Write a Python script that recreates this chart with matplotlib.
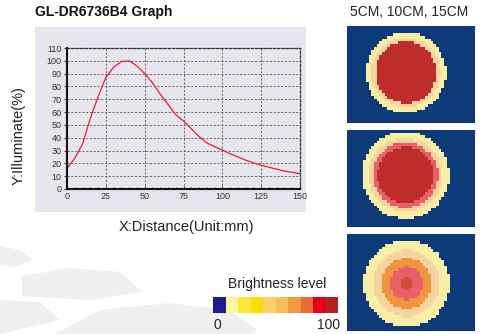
import numpy as np
import matplotlib.pyplot as plt
from matplotlib.colors import to_rgb
from matplotlib.patches import Rectangle, Polygon

W, H = 495, 334

# curve data
distance = [0, 5, 10, 15, 20, 25, 30, 35, 40, 45, 50, 55, 60, 65, 70, 75, 80, 85,
            90, 95, 100, 105, 110, 115, 120, 125, 130, 135, 140, 145, 150]
illuminate = [16, 24, 35, 55, 72, 87, 95, 99.5, 100, 96, 90, 83, 74, 66, 58, 53,
              47, 41, 36, 33, 30.5, 27.5, 25, 22.5, 20.5, 18.5, 17, 15.5, 14, 13, 12]
x_ticks = [0, 25, 50, 75, 100, 125, 150]
y_ticks = list(range(0, 111, 10))

# brightness levels (index into level_colors) and ring radii in px
level_colors = ['#0d3a78', '#f8eea4', '#f5d4a0', '#f0943e', '#e8606a', '#bf2d2a', '#d84a3a']
panel_levels = [
    [1, 2, 5],
    [1, 2, 4, 5],
    [1, 2, 3, 4, 6],
]
panel_radii = [
    [40, 34.5, 30.5],
    [43.5, 37, 32.5, 28],
    [43, 33, 25, 16.5, 6.5],
]
panel_centers = [(59, 47), (58.5, 45), (59.5, 50)]  # px inside each panel

scale_colors = ['#1c1f8a', '#fff6a0', '#fbe93a', '#f9dc00', '#fbd06c', '#f8bc5a',
                '#f29a40', '#ec6a3a', '#e3001b', '#b31e24']


def box(x, y, w, h):
    return [x / W, 1 - (y + h) / H, w / W, h / H]


fig = plt.figure(figsize=(W / 100, H / 100), dpi=100)
plt.rcParams['font.family'] = ['Liberation Sans', 'DejaVu Sans']

# background layer in pixel coordinates
bg = fig.add_axes([0, 0, 1, 1])
bg.set_xlim(0, W)
bg.set_ylim(H, 0)
bg.axis('off')

# grey brush strokes at bottom left
strokes = [
    [(0, 246), (20, 250), (32, 260), (15, 267), (0, 265)],
    [(22, 276), (70, 268), (120, 272), (142, 292), (90, 300), (22, 296)],
    [(0, 300), (40, 302), (60, 320), (0, 334)],
    [(55, 334), (100, 310), (170, 303), (230, 311), (258, 330), (250, 334)],
]
for pts in strokes:
    bg.add_patch(Polygon(pts, closed=True, color='#efefef', lw=0, zorder=0))

bg.add_patch(Rectangle((35, 27), 271, 185, color='#e7e6ef', lw=0))

bg.text(35, 12, 'GL-DR6736B4 Graph', fontsize=10, fontweight='bold',
        va='center', ha='left', color='#111111')
bg.text(19, 136, 'Y:Illuminate(%)', fontsize=10.5, rotation=90,
        va='center', ha='center', color='#222222')
bg.text(186, 227, 'X:Distance(Unit:mm)', fontsize=10.5,
        va='center', ha='center', color='#222222')
bg.text(409, 12, '5CM, 10CM, 15CM', fontsize=10,
        va='center', ha='center', color='#222222')
bg.text(277, 284, 'Brightness level', fontsize=10,
        va='center', ha='center', color='#222222')
bg.text(217, 325, '0', fontsize=10, va='center', ha='center', color='#222222')
bg.text(329, 325, '100', fontsize=10, va='center', ha='center', color='#222222')

# line chart
ax = fig.add_axes(box(67, 48, 233, 141))
ax.set_facecolor('none')
ax.plot(distance, illuminate, color='#ee1c2a', lw=0.9)
ax.set_xlim(0, 150)
ax.set_ylim(0, 110)
ax.set_xticks(x_ticks)
ax.set_yticks(y_ticks)
ax.set_xticks(range(0, 151, 5), minor=True)
ax.grid(True, color='#555555', ls=(0, (2.5, 2)), lw=0.6)
ax.tick_params(labelsize=6.5, colors='#333333', length=2.5, width=0.8,
               direction='in', pad=2)
ax.tick_params(axis='x', which='minor', length=1.8, width=0.6, direction='in')
ax.tick_params(axis='y', direction='out', length=2)
for s in ['left', 'bottom']:
    ax.spines[s].set_linewidth(1.5)
    ax.spines[s].set_color('#111111')
for s in ['top', 'right']:
    ax.spines[s].set_linestyle((0, (2, 1.5)))
    ax.spines[s].set_linewidth(0.9)
    ax.spines[s].set_color('#333333')

# pixelated brightness panels
cell = 2.7
nx, ny = 48, 36
rgb = np.array([to_rgb(c) for c in level_colors])
for i, top in enumerate([26, 130, 234]):
    pax = fig.add_axes(box(347, top, 128, 97))
    cx, cy = panel_centers[i]
    xs = (np.arange(nx) + 0.5) * cell
    ys = (np.arange(ny) + 0.5) * cell
    gx, gy = np.meshgrid(xs, ys)
    d = np.hypot(gx - cx, gy - cy)
    grid = np.zeros(d.shape, dtype=int)
    for lvl, r in zip(panel_levels[i], panel_radii[i]):
        grid[d <= r] = lvl
    pax.imshow(rgb[grid], interpolation='nearest', aspect='auto',
               extent=(0, nx * cell, ny * cell, 0))
    pax.set_xlim(0, 128)
    pax.set_ylim(97, 0)
    pax.axis('off')

# brightness scale
cax = fig.add_axes(box(213, 297, 125, 16))
for k, c in enumerate(scale_colors):
    cax.bar(k, 1, width=1.0, color=c, align='edge', lw=0)
cax.set_xlim(0, len(scale_colors))
cax.set_ylim(0, 1)
cax.axis('off')

fig.savefig('out.png', dpi=100)
